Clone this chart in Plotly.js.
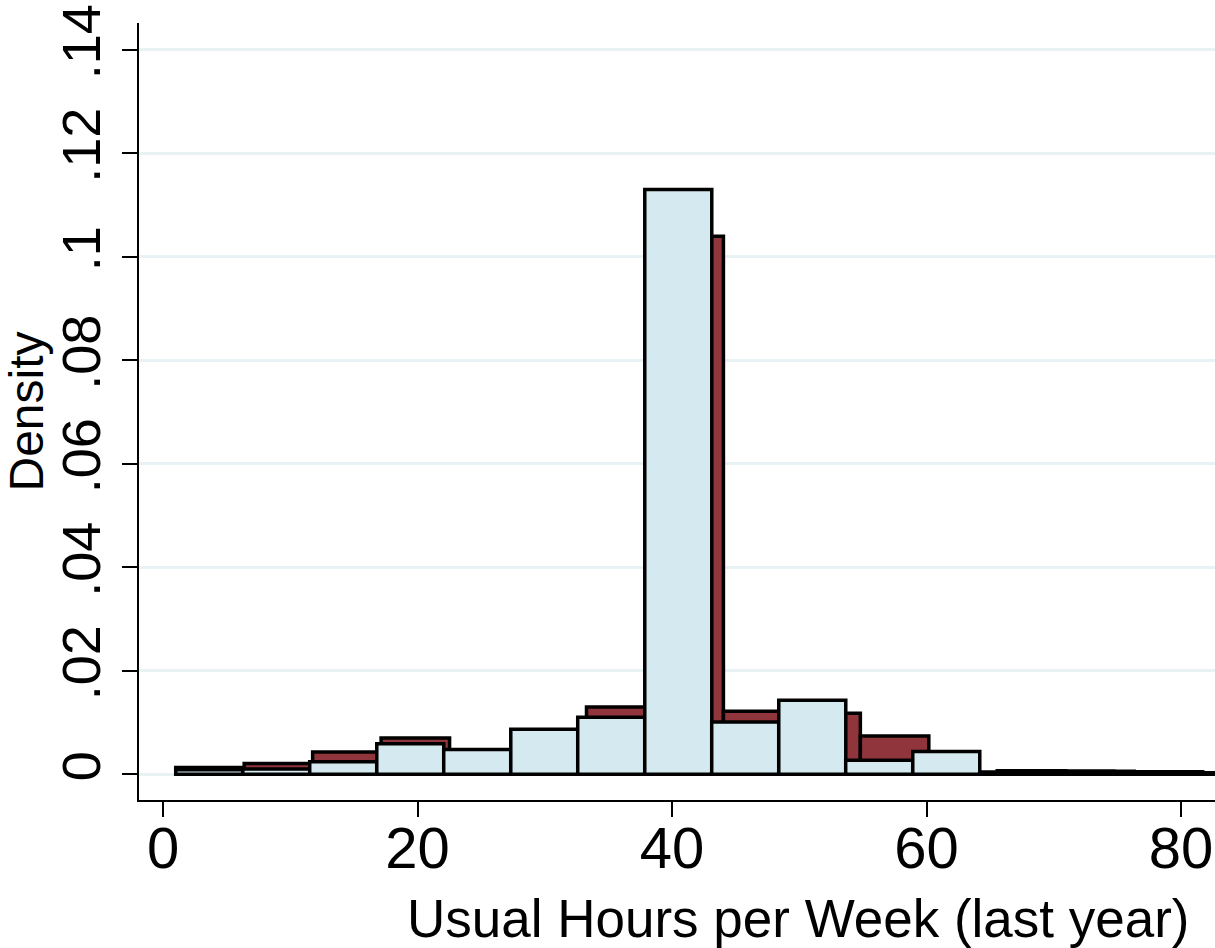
<!DOCTYPE html>
<html>
<head>
<meta charset="utf-8">
<script src="https://cdn.plot.ly/plotly-3.0.1.min.js"></script>
<style>html,body{margin:0;padding:0;background:#fff;}#chart{width:1215px;height:948px;}</style>
</head>
<body>
<div id="chart"></div>
<script>
// Bin left edges (hours) and widths
var redBinStarts = [1.0, 6.38, 11.76, 17.14, 22.52, 27.90, 33.28, 38.66, 44.04, 49.42, 54.80, 60.18, 65.56, 70.94, 76.32, 81.70];
var redBinWidth = 5.38;
var redDensity = [0.0013, 0.0021, 0.0043, 0.0070, 0.0044, 0.0082, 0.0130, 0.1040, 0.0122, 0.0118, 0.0074, 0.0004, 0.0007, 0.0006, 0.0005, 0.0003];

var blueBinStarts = [1.0, 6.27, 11.53, 16.80, 22.06, 27.33, 32.59, 37.86, 43.12, 48.39, 53.65, 58.92, 64.18, 69.45, 74.71, 79.98];
var blueBinWidth = 5.265;
var blueDensity = [0.0009, 0.0010, 0.0024, 0.0059, 0.0048, 0.0087, 0.0110, 0.1130, 0.0101, 0.0143, 0.0027, 0.0044, 0.0004, 0.0006, 0.0004, 0.0003];

var yTickVals = [0, 0.02, 0.04, 0.06, 0.08, 0.10, 0.12, 0.14];
var yTickText = ["0", ".02", ".04", ".06", ".08", ".1", ".12", ".14"];
var xTickVals = [0, 20, 40, 60, 80];
var xTickText = ["0", "20", "40", "60", "80"];

var xTitle = "Usual Hours per Week (last year)";
var yTitle = "Density";

function centers(starts, w) { return starts.map(function (s) { return s + w / 2; }); }

var FONT = "Liberation Sans, Arial, Helvetica, sans-serif";

var traces = [
  {
    type: "bar",
    x: centers(redBinStarts, redBinWidth),
    y: redDensity,
    width: redBinWidth,
    marker: { color: "rgb(144,53,59)", line: { color: "#000", width: 3.5 } },
    hoverinfo: "x+y",
    showlegend: false
  },
  {
    type: "bar",
    x: centers(blueBinStarts, blueBinWidth),
    y: blueDensity,
    width: blueBinWidth,
    marker: { color: "rgb(213,234,240)", line: { color: "#000", width: 3.5 } },
    hoverinfo: "x+y",
    showlegend: false
  }
];

var layout = {
  width: 1215,
  height: 948,
  margin: { l: 139, r: 0, t: 23, b: 148 },
  paper_bgcolor: "#fff",
  plot_bgcolor: "#fff",
  barmode: "overlay",
  bargap: 0,
  font: { family: FONT, color: "#000" },
  xaxis: {
    range: [-1.886, 82.67],
    tickmode: "array",
    tickvals: xTickVals,
    ticktext: xTickText,
    ticks: "outside",
    ticklen: 15,
    tickwidth: 2,
    tickcolor: "#000",
    tickfont: { family: FONT, size: 58, color: "#000" },
    showline: true,
    linecolor: "#000",
    linewidth: 2,
    showgrid: false,
    zeroline: false,
    ticklabelstandoff: -19
  },
  yaxis: {
    range: [-0.00497, 0.1452],
    tickmode: "array",
    tickvals: yTickVals,
    ticktext: yTickText,
    tickangle: -90,
    ticks: "outside",
    ticklen: 15,
    tickwidth: 2,
    tickcolor: "#000",
    tickfont: { family: FONT, size: 54, color: "#000" },
    showline: true,
    linecolor: "#000",
    linewidth: 2,
    showgrid: true,
    gridcolor: "#e8f1f3",
    gridwidth: 3,
    zeroline: false,
    title: { text: yTitle, font: { family: FONT, size: 48, color: "#000" }, standoff: 0 }
  },
  annotations: [
    {
      text: xTitle,
      xref: "paper", yref: "paper",
      x: 0.979, y: -0.152,
      xanchor: "right", yanchor: "middle",
      showarrow: false,
      font: { family: FONT, size: 53, color: "#000" }
    }
  ]
};

Plotly.newPlot("chart", traces, layout, { displayModeBar: false, staticPlot: true });
</script>
</body>
</html>
